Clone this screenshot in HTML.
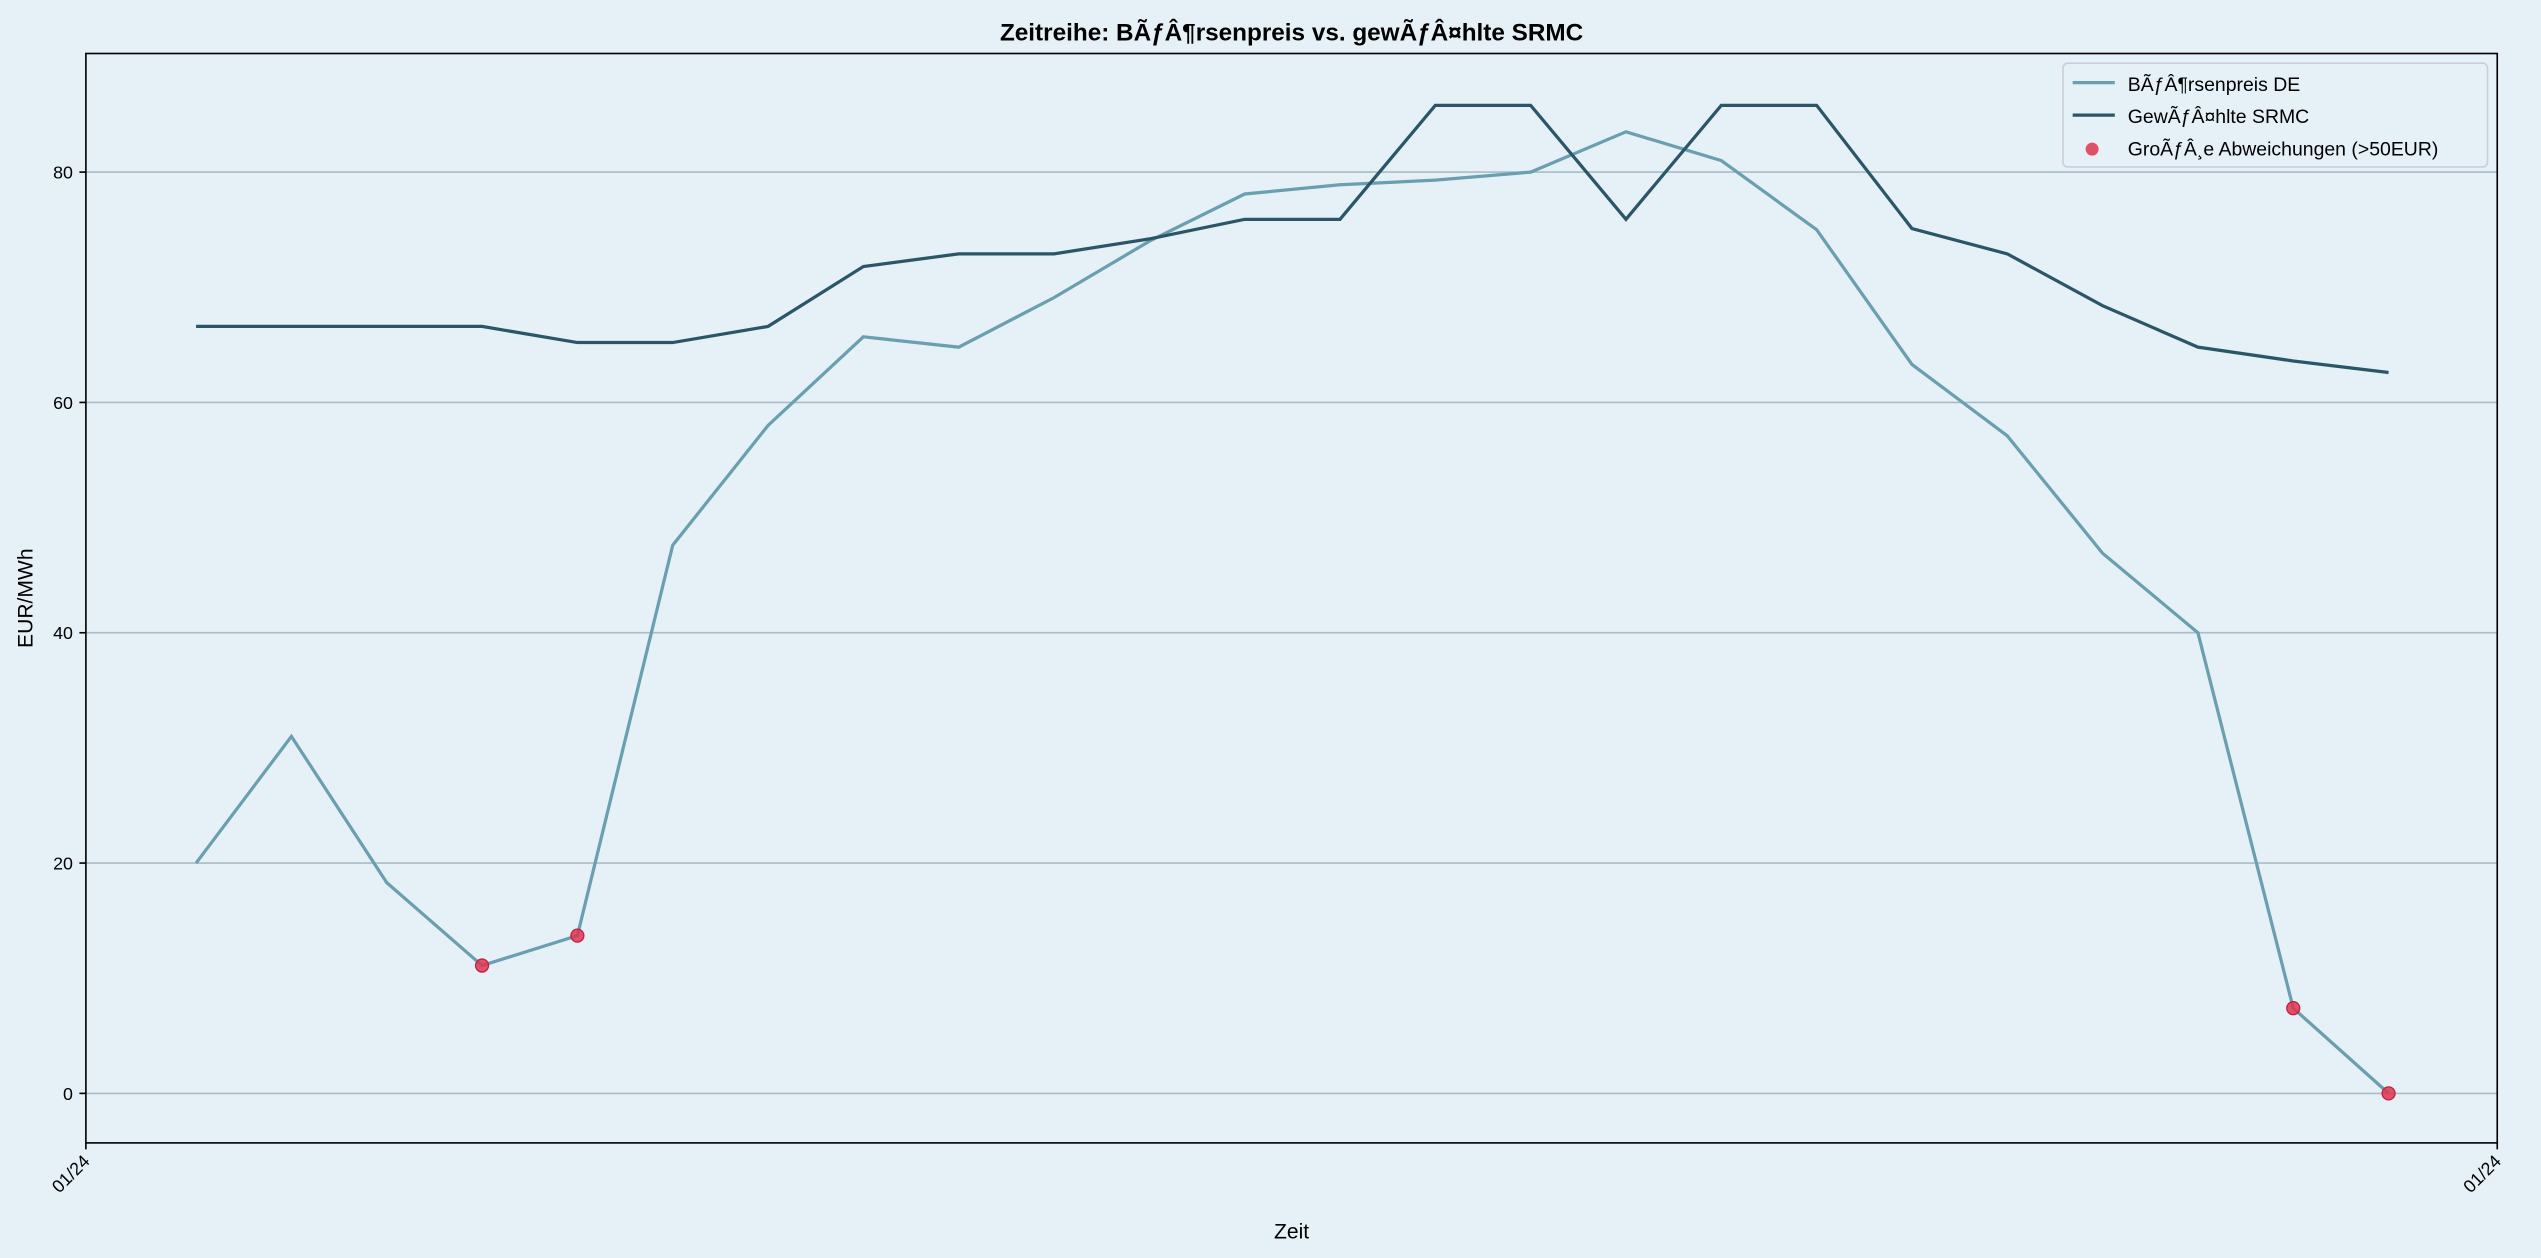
<!DOCTYPE html>
<html><head><meta charset="utf-8"><style>
html,body{margin:0;padding:0;background:#e6f0f7;}
svg{display:block;font-family:"Liberation Sans","DejaVu Sans",sans-serif;}
</style></head><body>
<svg id="chart" width="2541" height="1258" viewBox="0 0 1568 776" preserveAspectRatio="none" xmlns="http://www.w3.org/2000/svg">
<rect x="0" y="0" width="1568" height="776" fill="#e6f0f7"/>
<rect x="53" y="33" width="1488" height="672" fill="#e6f0f7"/>
<g id="grid"></g>
<g id="series"></g>
<rect x="53" y="33" width="1488" height="672" fill="none" stroke="#000" stroke-width="1"/>
<g id="axes"></g>
<text x="797" y="25" text-anchor="middle" font-size="15" font-weight="bold">Zeitreihe: BÃƒÂ¶rsenpreis vs. gewÃƒÂ¤hlte SRMC</text>
<text x="797" y="764" text-anchor="middle" font-size="13">Zeit</text>
<text x="0" y="0" transform="translate(20,369) rotate(-90)" text-anchor="middle" font-size="13">EUR/MWh</text>
<g>
<rect x="1273" y="39" width="262" height="64" rx="3" fill="#e6f0f7" stroke="#ccd" stroke-width="1"/>
<line x1="1279" y1="51" x2="1305" y2="51" stroke="#6a9fb0" stroke-width="2"/>
<text x="1313" y="56" font-size="12">BÃƒÂ¶rsenpreis DE</text>
<line x1="1279" y1="71" x2="1305" y2="71" stroke="#2a5668" stroke-width="2"/>
<text x="1313" y="76" font-size="12">GewÃƒÂ¤hlte SRMC</text>
<circle cx="1291" cy="92" r="4" fill="#e0344f" fill-opacity="0.85"/>
<text x="1313" y="96" font-size="12">GroÃƒÂ¸e Abweichungen (&gt;50EUR)</text>
</g>
</svg>
<script>
const hours = [0,1,2,3,4,5,6,7,8,9,10,11,12,13,14,15,16,17,18,19,20,21,22,23];
const price = [20,31,18.3,11.1,13.7,47.6,58,65.7,64.8,69.1,74,78.1,78.9,79.3,80,83.5,81,75,63.3,57.1,46.9,40,7.4,0];
const srmc = [66.6,66.6,66.6,66.6,65.2,65.2,66.6,71.8,72.9,72.9,74.2,75.9,75.9,85.8,85.8,75.9,85.8,85.8,75.1,72.9,68.4,64.8,63.6,62.6];
const yTicks = [0,20,40,60,80];
const xTickLabels = ["01/24","01/24"];
const threshold = 50;

const NS="http://www.w3.org/2000/svg";
const L=53,R=1541,T=33,B=705;
const xMin=-1.156,xMax=24.14,yMin=-4.3,yMax=90.3;
function xs(v){return L+(v-xMin)/(xMax-xMin)*(R-L);}
function ys(v){return B-(v-yMin)/(yMax-yMin)*(B-T);}
function mk(tag,attrs,parent){const e=document.createElementNS(NS,tag);for(const k in attrs)e.setAttribute(k,attrs[k]);parent.appendChild(e);return e;}
const grid=document.getElementById('grid'),axes=document.getElementById('axes'),series=document.getElementById('series');
yTicks.forEach(t=>{
  const g=mk('line',{x1:L,x2:R,y1:ys(t),y2:ys(t),stroke:'#aabcc6','stroke-width':1},grid);
  
  
  const tk=mk('line',{x1:L-4,x2:L,y1:ys(t),y2:ys(t),stroke:'#000'},axes);
  
  
  const tx=mk('text',{x:L-8,y:ys(t)+4,'text-anchor':'end','font-size':11},axes);
  tx.textContent=t;
  
  
});
[L,R].forEach((x,i)=>{
  const tk=mk('line',{x1:x,x2:x,y1:B,y2:B+4,stroke:'#000'},axes);
  
  
  const tx=mk('text',{x:0,y:0,transform:`translate(${x+3},${B+12}) rotate(-45)`,'text-anchor':'end','font-size':11},axes);
  tx.textContent=xTickLabels[i];
  
  
});
function path(vals){return vals.map((v,i)=>(i?'L':'M')+xs(hours[i])+','+ys(v)).join(' ');}
const p1=mk('path',{d:path(price),fill:'none',stroke:'#6a9fb0','stroke-width':2},series);


const p2=mk('path',{d:path(srmc),fill:'none',stroke:'#2a5668','stroke-width':2},series);


hours.forEach((h,i)=>{
  if(Math.abs(srmc[i]-price[i])>threshold){
    const c=mk('circle',{cx:xs(h),cy:ys(price[i]),r:4,fill:'#e0344f','fill-opacity':0.85,stroke:'#c02040','stroke-width':0.8},series);
    
    
  }
});
</script>
</body></html>
